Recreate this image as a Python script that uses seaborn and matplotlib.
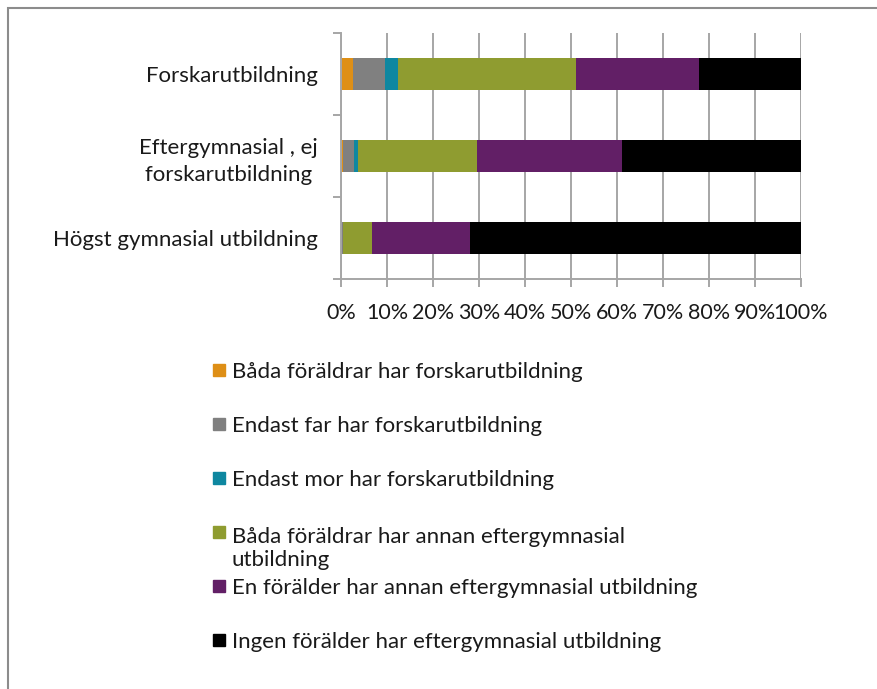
import pandas as pd
import matplotlib.pyplot as plt
from matplotlib.patches import Rectangle
import seaborn as sns

sns.set_theme(style = "white")
plt.rcParams["font.family"] = ["Lato", "DejaVu Sans"]

# Values (percent of each group).
categories = ["Forskarutbildning", "Eftergymnasial , ej\nforskarutbildning ", "Högst gymnasial utbildning"]
series_names = ["Båda föräldrar har forskarutbildning",
                "Endast far har forskarutbildning",
                "Endast mor har forskarutbildning",
                "Båda föräldrar har annan eftergymnasial\nutbildning",
                "En förälder har annan eftergymnasial utbildning",
                "Ingen förälder har eftergymnasial utbildning"]
bada_forskar = [2.6, 0.4, 0.1]
far_forskar = [6.9, 2.4, 0.3]
mor_forskar = [3.0, 0.8, 0.1]
bada_annan = [38.5, 25.9, 6.3]
en_annan = [26.8, 31.5, 21.2]
ingen = [22.2, 39.0, 72.0]
colors = ["#DE8F16", "#808080", "#0E87A0", "#8F9C30", "#621F66", "#000000"]
xticks = list(range(0, 101, 10))

df = pd.DataFrame({"Utbildning" : categories})
values = [bada_forskar, far_forskar, mor_forskar, bada_annan, en_annan, ingen]
for name, vals in zip(series_names, values):
    df[name] = vals
cum = df[series_names].cumsum(axis = 1)
cum["Utbildning"] = categories

fig = plt.figure(figsize = (8.78, 6.89), dpi = 100)
ax = fig.add_axes([341/878, 1 - 279/689, 460/878, 246/689])

# Stacked bars: draw cumulative totals from the largest down.
for name, c in reversed(list(zip(series_names, colors))):
    sns.barplot(data = cum, x = name, y = "Utbildning", color = c, width = 0.4,
                saturation = 1, linewidth = 0, orient = "h", ax = ax)

gray = "#A6A6A6"
text_color = "#1a1a1a"
ax.set_xlim(0, 100)
ax.set_ylim(2.5, -0.5)
ax.set_xticks(xticks)
ax.set_xticklabels([f"{t}%" for t in xticks])
ax.set_yticks([-0.5, 0.5, 1.5, 2.5])
ax.set_yticklabels([])
ax.set_yticks([0, 1, 2], minor = True)
ax.set_yticklabels(categories, minor = True, ha = "right", multialignment = "right",
                   linespacing = 1.45)
ax.set_xlabel("")
ax.set_ylabel("")
ax.set_axisbelow(True)
ax.xaxis.grid(True, color = gray, linewidth = 1.4)
ax.yaxis.grid(False)
for s in ["top", "right"]:
    ax.spines[s].set_visible(False)
for s in ["left", "bottom"]:
    ax.spines[s].set_color(gray)
    ax.spines[s].set_linewidth(1.4)
ax.tick_params(axis = "x", which = "major", direction = "out", length = 6, width = 1.4,
               color = gray, bottom = True, pad = 11, labelsize = 15.5, labelcolor = text_color)
ax.tick_params(axis = "y", which = "major", direction = "out", length = 6, width = 1.4,
               color = gray, left = True)
ax.tick_params(axis = "y", which = "minor", length = 0, pad = 17, labelsize = 16,
               labelcolor = text_color, left = True)

# Legend below the chart, one row per series.
row_y = [370, 424, 478, 532, 586, 640]
for name, c, y in zip(series_names, colors, row_y):
    fig.patches.append(Rectangle((213/878, 1 - (y + 6)/689), 12/878, 12/689,
                                 transform = fig.transFigure, color = c))
    extra = 26 * name.count("\n")  # baseline is taken from the last line
    fig.text(232/878, 1 - (y + 8 + extra)/689, name, fontsize = 16, color = text_color,
             va = "baseline", ha = "left", linespacing = 1.2)

# Outer chart frame.
fig.patches.append(Rectangle((8/878, -0.1), 1.2, 1.1 - 8/689, transform = fig.transFigure,
                             fill = False, edgecolor = "#8C8C8C", linewidth = 1.5))

fig.savefig("out.png", dpi = 100)
